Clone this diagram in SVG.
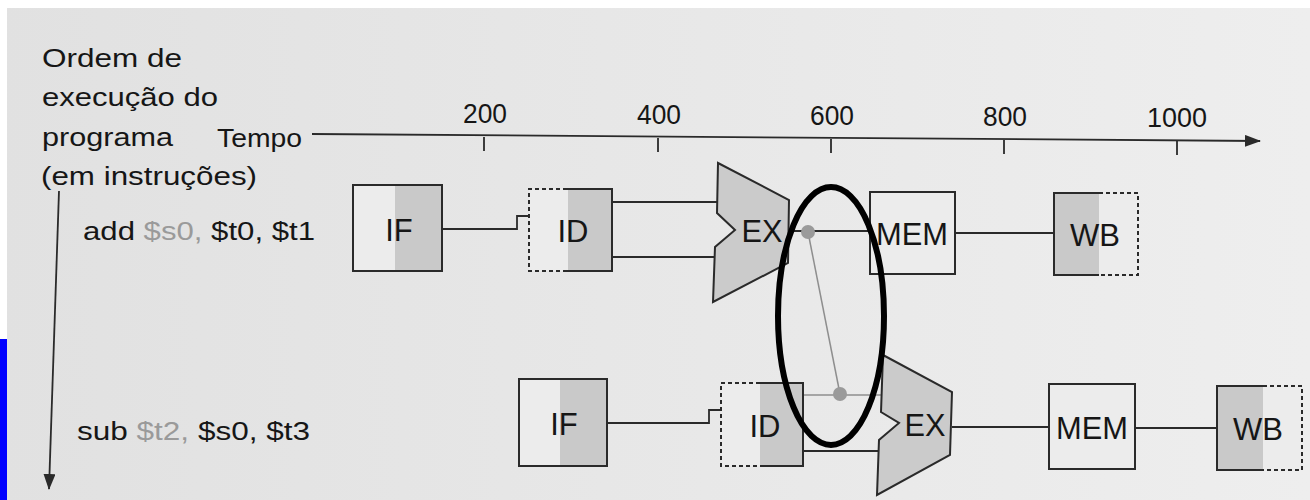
<svg xmlns="http://www.w3.org/2000/svg" width="1310" height="500" viewBox="0 0 1310 500">
  <style>
    .t { font-family: "Liberation Sans", Arial, sans-serif; fill: #161616; }
    .lbl { font-size: 25px; }
    .num { font-size: 28px; text-anchor: middle; }
    .st { font-size: 31px; text-anchor: middle; }
    .box { fill: #ececec; stroke: none; }
    .shade { fill: #c9c9c9; stroke: none; }
    .solid { fill: none; stroke: #2a2a2a; stroke-width: 2; }
    .dash { fill: none; stroke: #2a2a2a; stroke-width: 2; stroke-dasharray: 4 3; }
    .alu { fill: #cbcbcb; stroke: #2a2a2a; stroke-width: 2; stroke-linejoin: miter; }
    .wire { fill: none; stroke: #2a2a2a; stroke-width: 1.8; }
    .fwd { fill: none; stroke: #8e8e8e; stroke-width: 1.5; }
    .dot { fill: #9a9a9a; }
    .gray { fill: #9a9a9a; }
  </style>
  <defs>
    <linearGradient id="bg" x1="0" y1="0" x2="1" y2="0">
      <stop offset="0" stop-color="#e1e1e1"/>
      <stop offset="1" stop-color="#eeeeee"/>
    </linearGradient>
    <marker id="arr" viewBox="0 0 16 12" refX="15" refY="6" markerWidth="16" markerHeight="12" markerUnits="userSpaceOnUse" orient="auto">
      <path d="M0,0 L16,6 L0,12 Z" fill="#2a2a2a"/>
    </marker>
  </defs>

  <!-- page background -->
  <rect x="0" y="0" width="1310" height="500" fill="url(#bg)"/>
  <rect x="0" y="0" width="1310" height="8" fill="#ffffff"/>
  <rect x="0" y="0" width="7" height="339" fill="#ffffff"/>
  <rect x="0" y="339" width="7" height="161" fill="#0000ff"/>

  <!-- left captions -->
  <g id="caption">
    <text class="t lbl" x="42" y="67" textLength="140" lengthAdjust="spacingAndGlyphs">Ordem de</text>
    <text class="t lbl" x="42" y="106" textLength="176" lengthAdjust="spacingAndGlyphs">execução do</text>
    <text class="t lbl" x="42" y="146" textLength="131" lengthAdjust="spacingAndGlyphs">programa</text>
    <text class="t lbl" x="41" y="185" textLength="216" lengthAdjust="spacingAndGlyphs">(em instruções)</text>
  </g>

  <!-- time axis -->
  <g id="time-axis">
    <text class="t lbl" x="217" y="147" textLength="85" lengthAdjust="spacingAndGlyphs">Tempo</text>
    <path class="wire" d="M312,134 L1260,141" marker-end="url(#arr)"/>
    <path class="wire" d="M484,137 V151 M658,138 V152 M831,139 V153 M1004,140 V154 M1177,141 V155"/>
    <text class="t num" x="485" y="123" textLength="44" lengthAdjust="spacingAndGlyphs">200</text>
    <text class="t num" x="659" y="124" textLength="44" lengthAdjust="spacingAndGlyphs">400</text>
    <text class="t num" x="832" y="125" textLength="44" lengthAdjust="spacingAndGlyphs">600</text>
    <text class="t num" x="1005" y="126" textLength="44" lengthAdjust="spacingAndGlyphs">800</text>
    <text class="t num" x="1177" y="127" textLength="60" lengthAdjust="spacingAndGlyphs">1000</text>
  </g>

  <!-- program order axis -->
  <g id="order-axis">
    <path class="wire" d="M59,191 L49,489" marker-end="url(#arr)"/>
  </g>

  <!-- instruction labels -->
  <g id="instr-add">
    <text class="t lbl" x="83" y="240" textLength="232" lengthAdjust="spacingAndGlyphs">add <tspan class="gray">$s0,</tspan> $t0, $t1</text>
  </g>
  <g id="instr-sub">
    <text class="t lbl" x="77" y="440" textLength="233" lengthAdjust="spacingAndGlyphs">sub <tspan class="gray">$t2,</tspan> $s0, $t3</text>
  </g>

  <!-- connectors -->
  <g id="connectors">
    <!-- row 1 -->
    <path class="wire" d="M442,229 H517 V216 H530"/>
    <path class="wire" d="M612,202 H718"/>
    <path class="wire" d="M612,257 H714"/>
    <path class="wire" d="M789,231 H870"/>
    <path class="wire" d="M955,233 H1054"/>
    <!-- row 2 -->
    <path class="wire" d="M607,423 H709 V410 H721"/>
    <path class="fwd" d="M803,395 H881"/>
    <path class="wire" d="M803,451 H879"/>
    <path class="wire" d="M952,427 H1049"/>
    <path class="wire" d="M1135,428 H1217"/>
    <!-- forwarding -->
    <path class="fwd" d="M808,232 L840,394"/>
    <circle class="dot" cx="808" cy="232" r="7"/>
    <circle class="dot" cx="840" cy="394" r="7"/>
  </g>

  <!-- row 1 stages -->
  <g id="if1">
    <rect class="box" x="353" y="185" width="89" height="86"/>
    <rect class="shade" x="395" y="186" width="46" height="84"/>
    <rect class="solid" x="353" y="185" width="89" height="86"/>
    <text class="t st" x="399" y="241">IF</text>
  </g>
  <g id="id1">
    <rect class="box" x="529" y="189" width="83" height="82"/>
    <rect class="shade" x="568" y="190" width="43" height="80"/>
    <path class="solid" d="M567,189 H612 V271 H567"/>
    <path class="dash" d="M567,189 H529 V271 H567"/>
    <text class="t st" x="573" y="242">ID</text>
  </g>
  <g id="ex1">
    <polygon class="alu" points="718,163 789,200 788,263 713,302 715,247 735,230 717,213"/>
    <text class="t st" x="762" y="242" textLength="41" lengthAdjust="spacingAndGlyphs">EX</text>
  </g>
  <g id="mem1">
    <rect class="box" x="870" y="192" width="85" height="82"/>
    <rect class="solid" x="870" y="192" width="85" height="82"/>
    <text class="t st" x="912" y="245" textLength="72" lengthAdjust="spacingAndGlyphs">MEM</text>
  </g>
  <g id="wb1">
    <rect class="box" x="1054" y="193" width="84" height="82"/>
    <rect class="shade" x="1055" y="194" width="44" height="80"/>
    <path class="solid" d="M1099,193 H1054 V275 H1099"/>
    <path class="dash" d="M1099,193 H1138 V275 H1099"/>
    <text class="t st" x="1095" y="246">WB</text>
  </g>

  <!-- row 2 stages -->
  <g id="if2">
    <rect class="box" x="519" y="379" width="88" height="87"/>
    <rect class="shade" x="560" y="380" width="46" height="85"/>
    <rect class="solid" x="519" y="379" width="88" height="87"/>
    <text class="t st" x="564" y="435">IF</text>
  </g>
  <g id="id2">
    <rect class="box" x="721" y="383" width="82" height="83"/>
    <rect class="shade" x="760" y="384" width="42" height="81"/>
    <path class="solid" d="M760,383 H803 V466 H760"/>
    <path class="dash" d="M760,383 H721 V466 H760"/>
    <text class="t st" x="765" y="437">ID</text>
  </g>
  <g id="ex2">
    <polygon class="alu" points="883,355 952,392 950,455 877,495 879,440 899,423 881,412"/>
    <text class="t st" x="925" y="436" textLength="41" lengthAdjust="spacingAndGlyphs">EX</text>
  </g>
  <g id="mem2">
    <rect class="box" x="1049" y="384" width="86" height="85"/>
    <rect class="solid" x="1049" y="384" width="86" height="85"/>
    <text class="t st" x="1092" y="439" textLength="72" lengthAdjust="spacingAndGlyphs">MEM</text>
  </g>
  <g id="wb2">
    <rect class="box" x="1217" y="386" width="85" height="84"/>
    <rect class="shade" x="1218" y="387" width="45" height="82"/>
    <path class="solid" d="M1263,386 H1217 V470 H1263"/>
    <path class="dash" d="M1263,386 H1302 V470 H1263"/>
    <text class="t st" x="1258" y="440">WB</text>
  </g>

  <!-- highlight ellipse -->
  <g id="highlight">
    <ellipse cx="831" cy="316" rx="53" ry="129" fill="none" stroke="#000000" stroke-width="6"/>
  </g>
</svg>
